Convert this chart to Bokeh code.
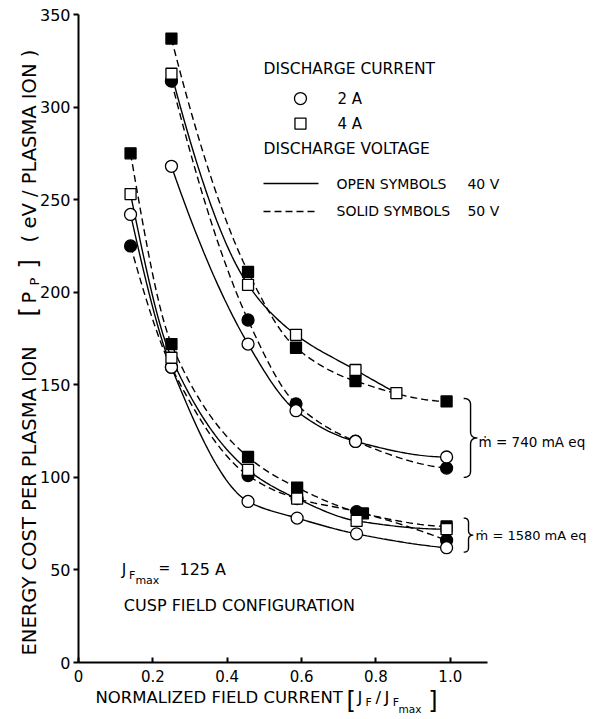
import numpy as np
from bokeh.plotting import figure
from bokeh.models import Label, Range1d, FixedTicker
from bokeh.embed import file_html
from bokeh.resources import INLINE

# ---------------- data ----------------
# m_dot = 740 mA eq group
x740_sq50 = [0.25, 0.456, 0.585, 0.745, 0.99]
y740_sq50 = [337, 211, 170, 152, 141]          # 4 A, 50 V (solid symbols, dashed)
x740_sq40 = [0.25, 0.456, 0.585, 0.745, 0.855]
y740_sq40 = [318, 204, 177, 158, 145.5]        # 4 A, 40 V (open symbols, solid)
x740_ci50 = [0.25, 0.456, 0.585, 0.745, 0.99]
y740_ci50 = [314, 185, 139.7, 119.5, 105]      # 2 A, 50 V
x740_ci40 = [0.25, 0.456, 0.585, 0.745, 0.99]
y740_ci40 = [268, 172, 136, 119.4, 111]        # 2 A, 40 V

# m_dot = 1580 mA eq group
x1580_sq50 = [0.14, 0.25, 0.456, 0.588, 0.765, 0.99]
y1580_sq50 = [275, 172, 111, 94.5, 80.5, 73.5]
x1580_sq40 = [0.14, 0.25, 0.456, 0.588, 0.748, 0.99]
y1580_sq40 = [253, 164.6, 104, 88.5, 76.5, 72]
x1580_ci50 = [0.14, 0.25, 0.456, 0.588, 0.748, 0.99]
y1580_ci50 = [225, 159.5, 101, 88.5, 81.5, 66]
x1580_ci40 = [0.14, 0.25, 0.456, 0.588, 0.748, 0.99]
y1580_ci40 = [242, 159.5, 87, 78, 69.5, 62]

xticks = [0, 0.2, 0.4, 0.6, 0.8, 1.0]
xtick_labels = ["0", "0.2", "0.4", "0.6", "0.8", "1.0"]
yticks = [0, 50, 100, 150, 200, 250, 300, 350]
x_axis_extent = (0, 1.1)
y_axis_extent = (0, 350)

FONT = "DejaVu Sans"

# canvas geometry (frame covers the whole canvas; axes drawn at x=0 / y=0)
W, H = 594, 717
X0_PX, XSCALE = 78, 371.8        # pixel of x=0, pixels per unit
Y0_PX, YSCALE = 662, 1.8514      # pixel (from top) of y=0, pixels per unit


def pchip(xs, ys, n=120):
    x = np.asarray(xs, float)
    y = np.asarray(ys, float)
    h = np.diff(x)
    d = np.diff(y) / h
    m = np.zeros_like(x)
    for k in range(1, len(x) - 1):
        if d[k - 1] * d[k] > 0:
            w1 = 2 * h[k] + h[k - 1]
            w2 = h[k] + 2 * h[k - 1]
            m[k] = (w1 + w2) / (w1 / d[k - 1] + w2 / d[k])

    def endslope(h0, h1, d0, d1):
        s = ((2 * h0 + h1) * d0 - h0 * d1) / (h0 + h1)
        if np.sign(s) != np.sign(d0):
            s = 0.0
        elif np.sign(d0) != np.sign(d1) and abs(s) > abs(3 * d0):
            s = 3 * d0
        return s

    m[0] = endslope(h[0], h[1], d[0], d[1])
    m[-1] = endslope(h[-1], h[-2], d[-1], d[-2])
    t = np.linspace(x[0], x[-1], n)
    idx = np.clip(np.searchsorted(x, t) - 1, 0, len(x) - 2)
    hh = h[idx]
    s = (t - x[idx]) / hh
    h00 = 2 * s**3 - 3 * s**2 + 1
    h10 = s**3 - 2 * s**2 + s
    h01 = -2 * s**3 + 3 * s**2
    h11 = s**3 - s**2
    yy = h00 * y[idx] + h10 * hh * m[idx] + h01 * y[idx + 1] + h11 * hh * m[idx + 1]
    return t, yy


xr = Range1d(-X0_PX / XSCALE, (W - X0_PX) / XSCALE)
yr = Range1d(-(H - Y0_PX) / YSCALE, Y0_PX / YSCALE)

p = figure(width=W, height=H, x_range=xr, y_range=yr,
           output_backend="svg", toolbar_location=None,
           min_border=0, min_border_left=0, min_border_right=0,
           min_border_top=0, min_border_bottom=0)
p.outline_line_color = None
p.xgrid.visible = False
p.ygrid.visible = False
p.background_fill_color = "white"
p.border_fill_color = "white"

for ax in (p.xaxis[0], p.yaxis[0]):
    ax.fixed_location = 0
    ax.axis_line_width = 2
    ax.axis_line_color = "black"
    ax.major_tick_line_width = 2
    ax.major_tick_line_color = "black"
    ax.minor_tick_line_color = None
    ax.major_label_text_font = FONT
    ax.major_label_text_color = "black"

p.xaxis.bounds = x_axis_extent
p.yaxis.bounds = y_axis_extent

p.xaxis.ticker = FixedTicker(ticks=xticks)
p.xaxis.major_label_overrides = {t: l for t, l in zip(xticks, xtick_labels)}
p.xaxis.major_tick_in = 5
p.xaxis.major_tick_out = 0
p.xaxis.major_label_standoff = 7
p.xaxis.major_label_text_font_size = "15px"

p.yaxis.ticker = FixedTicker(ticks=yticks)
p.yaxis.major_tick_in = 0
p.yaxis.major_tick_out = 5
p.yaxis.major_label_standoff = 3
p.yaxis.major_label_text_font_size = "16px"

DASH = "7 4"
LW = 1.4

curves = [
    (x740_sq50, y740_sq50, DASH), (x740_sq40, y740_sq40, "solid"),
    (x740_ci50, y740_ci50, DASH), (x740_ci40, y740_ci40, "solid"),
    (x1580_sq50, y1580_sq50, DASH), (x1580_sq40, y1580_sq40, "solid"),
    (x1580_ci50, y1580_ci50, DASH), (x1580_ci40, y1580_ci40, "solid"),
]
for xs, ys, dash in curves:
    cx, cy = pchip(xs, ys)
    p.line(cx, cy, line_color="black", line_width=LW, line_dash=dash)

# markers: filled circles, open circles, filled squares, open squares
MS = 12
for xs, ys in [(x740_ci50, y740_ci50), (x1580_ci50, y1580_ci50)]:
    p.scatter(xs, ys, marker="circle", size=MS, fill_color="black", line_color="black", line_width=1.3)
for xs, ys in [(x740_ci40, y740_ci40), (x1580_ci40, y1580_ci40)]:
    p.scatter(xs, ys, marker="circle", size=MS, fill_color="white", line_color="black", line_width=1.3)
for xs, ys in [(x740_sq50, y740_sq50), (x1580_sq50, y1580_sq50)]:
    p.scatter(xs, ys, marker="square", size=MS - 1, fill_color="black", line_color="black", line_width=1.3)
for xs, ys in [(x740_sq40, y740_sq40), (x1580_sq40, y1580_sq40)]:
    p.scatter(xs, ys, marker="square", size=MS - 1, fill_color="white", line_color="black", line_width=1.3)


def lab(x, y, text, size, angle=0.0, align="left", baseline="middle"):
    p.add_layout(Label(x=x, y=y, text=text, text_font=FONT, text_font_size=f"{size}px",
                       text_color="black", angle=angle, text_align=align,
                       text_baseline=baseline))


# legend block
lab(0.4976, 320.8, "DISCHARGE CURRENT", 15.5)
p.scatter([0.597], [304.6], marker="circle", size=MS, fill_color="white", line_color="black", line_width=1.3)
lab(0.6966, 304.6, "2 A", 15)
p.scatter([0.597], [291.1], marker="square", size=MS - 1, fill_color="white", line_color="black", line_width=1.3)
lab(0.6966, 291.1, "4 A", 15)
lab(0.4976, 277.6, "DISCHARGE VOLTAGE", 15.5)
p.line([0.4976, 0.6455], [258.7, 258.7], line_color="black", line_width=LW)
lab(0.694, 258.7, "OPEN SYMBOLS", 14)
lab(1.046, 258.7, "40 V", 14)
p.line([0.4976, 0.6455], [243.6, 243.6], line_color="black", line_width=LW, line_dash=DASH)
lab(0.694, 243.6, "SOLID SYMBOLS", 14)
lab(1.046, 243.6, "50 V", 14)

# J_Fmax = 125 A
lab(0.116, 50, "J", 15.5)
lab(0.136, 47, "F", 11)
lab(0.153, 44.5, "max", 11)
lab(0.215, 51, "=", 14)
lab(0.2716, 50, "125 A", 16)
lab(0.122, 30.8, "CUSP FIELD CONFIGURATION", 16)


# braces
def brace(x0, w, y0, y1, r):
    ym = 0.5 * (y0 + y1)
    xm = x0 + w / 2
    s = np.linspace(0, 1, 20)

    def qb(a, c, b):
        return ((1 - s) ** 2 * a[0] + 2 * (1 - s) * s * c[0] + s ** 2 * b[0],
                (1 - s) ** 2 * a[1] + 2 * (1 - s) * s * c[1] + s ** 2 * b[1])

    pts = [qb((x0, y1), (xm, y1), (xm, y1 - r)),
           qb((xm, ym + r), (xm, ym), (x0 + w, ym)),
           qb((x0 + w, ym), (xm, ym), (xm, ym - r)),
           qb((xm, y0 + r), (xm, y0), (x0, y0))]
    xs = np.concatenate([q[0] for q in pts])
    ys = np.concatenate([q[1] for q in pts])
    p.line(xs, ys, line_color="black", line_width=1.4)


g740 = [y740_sq50[-1], y740_ci40[-1], y740_ci50[-1]]
brace(1.036, 0.037, min(g740) - 5, max(g740) + 1.6, 3.5)
lab(1.076, 119, "ṁ = 740 mA eq", 13.5)
g1580 = [y1580_sq50[-1], y1580_sq40[-1], y1580_ci50[-1], y1580_ci40[-1]]
brace(1.036, 0.026, min(g1580) - 2.4, max(g1580) + 4.5, 2.5)
lab(1.068, 68.6, "ṁ = 1580 mA eq", 13)

# x-axis title
lab(0.0457, -18.9, "NORMALIZED FIELD CURRENT", 16.5)
lab(0.721, -20.8, "[", 24)
lab(0.7504, -18.9, "J", 16.5)
lab(0.772, -21.4, "F", 11)
lab(0.799, -18.9, "/", 16.5)
lab(0.823, -18.9, "J", 16.5)
lab(0.845, -21.4, "F", 11)
lab(0.861, -25.3, "max", 10.5)
lab(0.941, -20.8, "]", 24)

# y-axis title (rotated)
A = np.pi / 2
lab(-0.1318, 3.8, "ENERGY COST PER PLASMA ION", 19.5, angle=A)
lab(-0.1318, 186.9, "[", 24, angle=A)
lab(-0.1318, 193.9, "P", 19.5, angle=A)
lab(-0.1183, 203.6, "P", 13, angle=A)
lab(-0.1318, 212.8, "]", 24, angle=A)
lab(-0.1318, 226.9, "( eV / PLASMA ION )", 19.5, angle=A)

open("out.html", "w").write(file_html(p, INLINE))
